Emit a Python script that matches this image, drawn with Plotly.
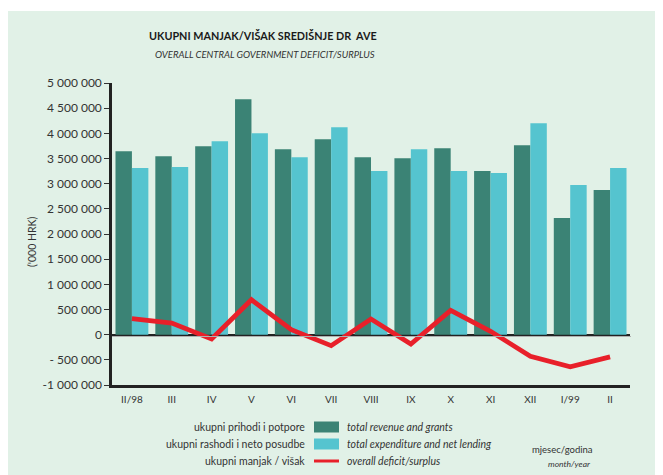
import plotly.graph_objects as go

categories = ["II/98", "III", "IV", "V", "VI", "VII", "VIII", "IX", "X", "XI", "XII", "I/99", "II"]
revenue = [3646000, 3547000, 3745000, 4676000, 3686000, 3884000, 3527000, 3507000, 3705000, 3250000, 3765000, 2318000, 2873000]
expenditure = [3309000, 3329000, 3844000, 4003000, 3527000, 4122000, 3250000, 3686000, 3250000, 3210000, 4201000, 2972000, 3309000]
deficit = [317000, 231000, -86000, 694000, 100000, -218000, 310000, -185000, 482000, 66000, -430000, -640000, -440000]

ytick_vals = [-1000000, -500000, 0, 500000, 1000000, 1500000, 2000000, 2500000, 3000000, 3500000, 4000000, 4500000, 5000000]
ytick_text = ["-1 000 000", "- 500 000", "0", "500 000", "1 000 000", "1 500 000", "2 000 000", "2 500 000",
              "3 000 000", "3 500 000", "4 000 000", "4 500 000", "5 000 000"]

GREEN = "#3b8375"
CYAN = "#55c4cf"
RED = "#e8202a"
BG = "#e1f1e7"
FONT = "Lato"

fig = go.Figure()
fig.add_trace(go.Bar(x=categories, y=revenue, marker_color=GREEN, marker_line_width=0, name="total revenue and grants"))
fig.add_trace(go.Bar(x=categories, y=expenditure, marker_color=CYAN, marker_line_width=0, name="total expenditure and net lending"))
fig.add_trace(go.Scatter(x=categories, y=deficit, mode="lines", line=dict(color=RED, width=4.8), name="overall deficit/surplus"))

# page offset: the figure is drawn 8px from the top-left of the window
OFF = 8
W, H = 655, 467
L, R, T, B = 104, 33, 75, 90
pw = W - L - R
ph = H - T - B

def px(x):
    # x in screen pixels
    return (x - OFF - L) / pw

def py(y):
    # y in screen pixels
    return (H - B - (y - OFF)) / ph

shapes = [
    dict(type="rect", xref="paper", yref="paper", x0=px(8), x1=px(670), y0=py(480), y1=py(11),
         fillcolor=BG, line_width=0, layer="below"),
    dict(type="line", xref="paper", yref="paper", x0=px(112), x1=px(631), y0=py(336.5), y1=py(336.5),
         line=dict(color="#b0b0b0", width=1.2)),
]
annotations = [
    dict(text="<b>UKUPNI MANJAK/VIŠAK SREDIŠNJE DR  AVE</b>", x=px(263), y=py(36), xref="paper", yref="paper",
         showarrow=False, font=dict(family=FONT, size=10.8, color="#1a1a1a"), xanchor="center", yanchor="middle"),
    dict(text="<i>OVERALL CENTRAL GOVERNMENT DEFICIT/SURPLUS</i>", x=px(265), y=py(54), xref="paper", yref="paper",
         showarrow=False, font=dict(family=FONT, size=9.5, color="#333333"), xanchor="center", yanchor="middle"),
    dict(text="('000 HRK)", x=px(32), y=py(242), xref="paper", yref="paper", textangle=-90,
         showarrow=False, font=dict(family=FONT, size=10.5, color="#333333"), xanchor="center", yanchor="middle"),
]

legend_rows = [
    ("ukupni prihodi i potpore", "total revenue and grants", GREEN, "bar", 427),
    ("ukupni rashodi i neto posudbe", "total expenditure and net lending", CYAN, "bar", 444),
    ("ukupni manjak / višak", "overall deficit/surplus", RED, "line", 461),
]
for hr, en, col, kind, yc in legend_rows:
    annotations.append(dict(text=hr, x=px(307), y=py(yc), xref="paper", yref="paper", showarrow=False,
                            xanchor="right", yanchor="middle", font=dict(family=FONT, size=10.5, color="#333333")))
    annotations.append(dict(text="<i>" + en + "</i>", x=px(345), y=py(yc), xref="paper", yref="paper", showarrow=False,
                            xanchor="left", yanchor="middle", font=dict(family=FONT, size=10.5, color="#333333")))
    half = 5.5 if kind == "bar" else 1.5
    shapes.append(dict(type="rect", xref="paper", yref="paper", x0=px(314), x1=px(339), y0=py(yc + half), y1=py(yc - half),
                       fillcolor=col, line_width=0))

annotations.append(dict(text="mjesec/godina", x=px(595), y=py(449), xref="paper", yref="paper", showarrow=False,
                        xanchor="right", yanchor="middle", font=dict(family=FONT, size=9.5, color="#333333")))
annotations.append(dict(text="<i>month/year</i>", x=px(593), y=py(464), xref="paper", yref="paper", showarrow=False,
                        xanchor="right", yanchor="middle", font=dict(family=FONT, size=8.5, color="#333333")))

fig.update_layout(
    width=W, height=H,
    margin=dict(l=L, r=R, t=T, b=B, pad=0),
    paper_bgcolor="white",
    plot_bgcolor="white",
    barmode="group",
    bargap=0.175,
    bargroupgap=0,
    showlegend=False,
    shapes=shapes,
    annotations=annotations,
    font=dict(family=FONT, color="#333333"),
)
fig.update_xaxes(
    type="category", range=[-0.5, 12.5], showgrid=False, showline=True, linecolor="#222222", linewidth=2.5,
    ticks="", tickfont=dict(family=FONT, size=10, color="#333333"), ticklabelstandoff=3, fixedrange=True,
)
fig.update_yaxes(
    range=[-1000000, 5000000], tickvals=ytick_vals, ticktext=ytick_text, showgrid=False,
    showline=True, linecolor="#222222", linewidth=2.5, ticks="outside", ticklen=5, tickwidth=1, tickcolor="#333333",
    tickfont=dict(family=FONT, size=12, color="#333333"), zeroline=True, zerolinecolor="#222222", zerolinewidth=2,
    fixedrange=True,
)

fig.write_html("out.html")
